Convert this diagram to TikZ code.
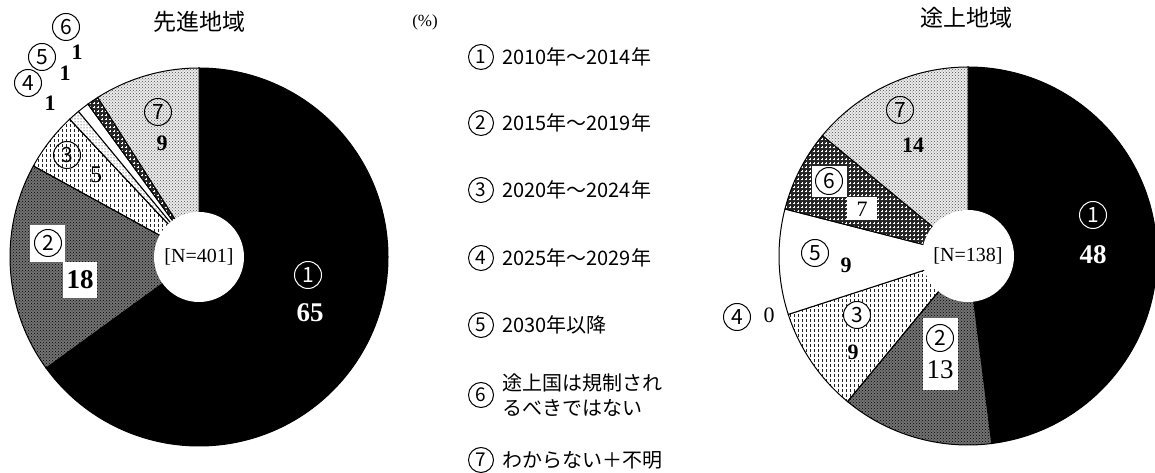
\documentclass[tikz,border=0pt]{standalone}
\usepackage{fontspec}
\setmainfont{Liberation Serif}
\newfontfamily\jpfont{Noto Sans CJK JP}
\usetikzlibrary{patterns}

\pgfdeclarepatternformonly{plus signs}{\pgfpoint{-1pt}{-1pt}}{\pgfpoint{5pt}{5pt}}{\pgfpoint{4pt}{4pt}}{
	\pgfsetlinewidth{0.9pt}
	\pgfpathmoveto{\pgfpoint{0.6pt}{2pt}}\pgfpathlineto{\pgfpoint{3.4pt}{2pt}}
	\pgfpathmoveto{\pgfpoint{2pt}{0.6pt}}\pgfpathlineto{\pgfpoint{2pt}{3.4pt}}
	\pgfusepath{stroke}
}
\pgfdeclarepatternformonly{short dashes}{\pgfpoint{-1pt}{-1pt}}{\pgfpoint{5pt}{6pt}}{\pgfpoint{4pt}{5pt}}{
	\pgfsetlinewidth{1pt}
	\pgfpathmoveto{\pgfpoint{2pt}{1pt}}\pgfpathlineto{\pgfpoint{2pt}{3.5pt}}
	\pgfusepath{stroke}
}

\tikzset{
	circ/.style={circle, draw, line width=1pt, minimum size=27pt, inner sep=0pt, font=\jpfont\fontsize{21}{21}\selectfont},
	legcirc/.style={circle, draw, line width=1pt, minimum size=25pt, inner sep=0pt, font=\jpfont\fontsize{19}{19}\selectfont},
	legtext/.style={font=\jpfont\fontsize{20}{25}\selectfont, inner sep=0pt, anchor=west, align=left},
	bigval/.style={font=\bfseries\fontsize{27}{27}\selectfont, inner sep=0pt},
	val/.style={font=\bfseries\fontsize{22}{22}\selectfont, inner sep=0pt},
	wbox/.style={fill=white, inner sep=0pt},
	wedge/.style={draw=black, line width=1pt},
	sec1/.style={fill=black},
	sec2/.style={preaction={fill=black!55}, pattern=crosshatch dots, pattern color=black},
	sec3/.style={pattern=short dashes, pattern color=black!85},
	sec4/.style={pattern=dots, pattern color=black},
	sec5/.style={fill=white},
	sec6/.style={preaction={fill=black!85}, pattern=plus signs, pattern color=white},
	sec7/.style={preaction={fill=gray!15}, pattern=crosshatch dots, pattern color=black!70}
}

\begin{document}
\begin{tikzpicture}[x=1pt, y=1pt]
	\useasboundingbox (0,0) rectangle (1155,473);

	\coordinate (lc) at (199,216);
	\coordinate (rc) at (968,217);

	% advanced region
	\foreach \s / \a / \b in {
	1/90/-144,
	2/-144/-208.8,
	3/-208.8/-226.8,
	4/-226.8/-230.4,
	5/-230.4/-234,
	6/-234/-237.6,
	7/-237.6/-270}
	{
		\path[sec\s, wedge] (lc) -- ++(\a:189) arc[start angle=\a, end angle=\b, radius=189] -- cycle;
	};
	\fill[white] (lc) circle [radius=45];

	% developing region
	\foreach \s / \a / \b in {
	1/90/-82.8,
	2/-82.8/-129.6,
	3/-129.6/-162,
	%4/-162/-162,
	5/-162/-194.4,
	6/-194.4/-219.6,
	7/-219.6/-270}
	{
		\path[sec\s, wedge] (rc) -- ++(\a:189) arc[start angle=\a, end angle=\b, radius=189] -- cycle;
	};
	\fill[white] (rc) circle [radius=46];

	\node[font=\jpfont\fontsize{23}{23}\selectfont] (ltitle) at (199,451) {先進地域};
	\node[font=\jpfont\fontsize{23}{23}\selectfont] (rtitle) at (966,455) {途上地域};
	\node[font=\fontsize{17}{17}\selectfont] (unit) at (425,451) {(\%)};

	\node[font=\fontsize{20}{20}\selectfont, inner sep=0pt] (ln) at (lc) {[N=401]};
	\node[font=\fontsize{20}{20}\selectfont, inner sep=0pt] (rn) at (rc) {[N=138]};

	% left labels
	\node[wbox, minimum width=35pt, minimum height=37pt] (l2box) at (47.5,229.5) {};
	\node[wbox, minimum width=34pt, minimum height=36pt] (l2vbox) at (80,193) {};
	\node[circ, draw=white, text=white] (l1) at (308,198) {1};
	\node[bigval, text=white] (l1v) at (310,160) {65};
	\node[circ] (l2) at (48,230) {2};
	\node[bigval] (l2v) at (80,193) {18};
	\node[circ] (l3) at (67,318) {3};
	\node[val, font=\fontsize{24}{24}\selectfont] (l3v) at (96,298) {5};
	\node[circ] (l4) at (28,390) {4};
	\node[val] (l4v) at (50,370) {1};
	\node[circ] (l5) at (42,416) {5};
	\node[val] (l5v) at (65,400) {1};
	\node[circ] (l6) at (66,446) {6};
	\node[val] (l6v) at (77,421) {1};
	\node[circ] (l7) at (158,361) {7};
	\node[val] (l7v) at (162,330) {9};

	% right labels
	\node[wbox, minimum width=35pt, minimum height=72pt] (r2box) at (940.5,119) {};
	\node[wbox, minimum width=35pt, minimum height=31pt] (r6box) at (829.5,291.5) {};
	\node[wbox, minimum width=30pt, minimum height=23pt] (r6vbox) at (862,264.5) {};
	\node[circ, draw=white, text=white] (r1) at (1093,258) {1};
	\node[bigval, text=white] (r1v) at (1093,218) {48};
	\node[circ] (r2) at (940,135) {2};
	\node[bigval, font=\fontsize{27}{27}\selectfont] (r2v) at (940,103) {13};
	\node[circ, fill=white] (r3) at (857,158) {3};
	\node[val, fill=white, inner sep=1pt] (r3v) at (853,121) {9};
	\node[circ] (r4) at (737,156) {4};
	\node[val, font=\fontsize{22}{22}\selectfont] (r4v) at (769,158) {0};
	\node[circ] (r5) at (815,220) {5};
	\node[val] (r5v) at (846,208) {9};
	\node[circ] (r6) at (829,292) {6};
	\node[val, font=\fontsize{22}{22}\selectfont] (r6v) at (862,264) {7};
	\node[circ] (r7) at (900,363) {7};
	\node[val] (r7v) at (913,328) {14};

	% legend
	\foreach \i / \y / \t in {
	1/416/2010年～2014年,
	2/350/2015年～2019年,
	3/283/2020年～2024年,
	4/215/2025年～2029年,
	5/148/2030年以降,
	6/78/{途上国は規制され\\るべきではない},
	7/13/わからない＋不明}
	{
		\node[legcirc] (k\i) at (481,\y) {\i};
		\node[legtext] (t\i) at (502,\y) {\t};
	};
\end{tikzpicture}
\end{document}
